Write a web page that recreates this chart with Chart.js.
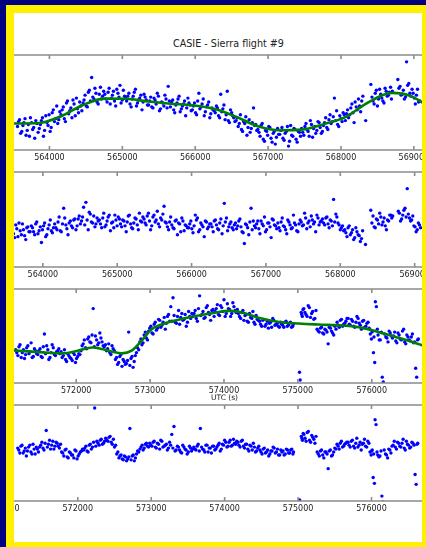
<!DOCTYPE html>
<html>
<head>
<meta charset="utf-8">
<script src="https://cdn.jsdelivr.net/npm/chart.js@4.4.1/dist/chart.umd.min.js"></script>
<style>
  html, body { margin: 0; padding: 0; }
  body { width: 426px; height: 547px; background: #000080; position: relative; overflow: hidden;
         font-family: "DejaVu Sans", sans-serif; }
  #frame { position: absolute; left: 6px; top: 5px; right: 0; bottom: 0; background: #fff000; }
  #plot { position: absolute; left: 14px; top: 13px; width: 408px; height: 529px; background: #fff; overflow: hidden; }
  #plot canvas { position: absolute; }
  .txt { position: absolute; color: #222; white-space: nowrap; }
</style>
</head>
<body>
<div id="frame"></div>
<div id="plot">
  <div class="txt" style="left:114.5px; width:200px; text-align:center; top:25px; line-height:12px; font-size:9.6px;">CASIE - Sierra flight #9</div>
  <canvas id="c1" width="490" height="117" style="left:-44px; top:38px;"></canvas>
  <canvas id="c2" width="490" height="117" style="left:-44px; top:155px;"></canvas>
  <canvas id="c3" width="460" height="116" style="left:-14px; top:272px;"></canvas>
  <canvas id="c4" width="470" height="118" style="left:-24px; top:388px;"></canvas>
  <div class="txt" style="left:197px; top:380px; line-height:10px; font-size:7.5px;">UTC (s)</div>
</div>
<script>
"use strict";

// tick positions (UTC seconds)
var leg1Ticks = [563000, 564000, 565000, 566000, 567000, 568000, 569000, 570000];
var leg2Ticks = [571000, 572000, 573000, 574000, 575000, 576000, 577000];

// ---- leg 1 (panels 1 & 2) : sample times, measured values, residuals ----
var leg1Time = [
  563562, 563590, 563621, 563650, 563679, 563711, 563739, 563770, 563798, 563829,
  563861, 563890, 563918, 563950, 563981, 564010, 564038, 564069, 564100, 564128,
  564159, 564190, 564219, 564248, 564280, 564309, 564338, 564370, 564399, 564430,
  564461, 564489, 564520, 564548, 564579, 564610, 564638, 564669, 564700, 564729,
  564760, 564791, 564819, 564850, 564878, 564909, 564940, 564968, 564999, 565030,
  565059, 565090, 565121, 565149, 565180, 565208, 565239, 565270, 565298, 565329,
  565361, 565389, 565420, 565449, 565480, 565510, 565539, 565570, 565599, 565630,
  565660, 565691, 565719, 565750, 565779, 565810, 565840, 565869, 565900, 565929,
  565961, 565990, 566019, 566050, 566079, 566110, 566139, 566170, 566200, 566229,
  566260, 566291, 566320, 566350, 566379, 566410, 566440, 566469, 566500, 566529,
  566561, 566590, 566620, 566650, 566679, 566710, 566740, 566769, 566800, 566830,
  566860, 566890, 566919, 566950, 566980, 567009, 567040, 567070, 567099, 567130,
  567160, 567190, 567219, 567250, 567280, 567309, 567340, 567370, 567399, 567430,
  567460, 567490, 567520, 567549, 567580, 567610, 567640, 567669, 567700, 567730,
  567760, 567790, 567820, 567850, 567879, 567910, 567940, 567969, 568000, 568030,
  568060, 568090, 568120, 568150, 568180, 568209, 568240, 568270, 568300, 568339,
  568410, 568440, 568470, 568500, 568530, 568560, 568590, 568620, 568650, 568680,
  568705, 568780, 568810, 568840, 568870, 568900, 568930, 568960,
  568990, 569020, 569050, 569080
];
var leg1Obs = [
  24, 31, 19, 28, 15, 26, 33, 21, 12, 27,
  22, 30, 14, 35, 25, 19, 38, 29, 45, 31,
  36, 44, 29, 50, 40, 33, 47, 53, 38, 45,
  48, 56, 44, 61, 74, 52, 58, 47, 64, 55,
  57, 49, 63, 53, 60, 45, 58, 66, 51, 55,
  50, 58, 44, 55, 62, 48, 53, 41, 57, 51,
  46, 54, 43, 51, 58, 40, 49, 45, 52, 65,
  44, 51, 38, 48, 55, 42, 47, 35, 53, 46,
  41, 48, 36, 58, 44, 52, 39, 46, 33, 43,
  40, 45, 35, 57, 42, 31, 60, 28, 38, 33,
  30, 24, 36, 19, 27, 15, 31, 22, 43, 26,
  21, 14, 27, 9, 19, 24, 12, 17, 6, 22,
  16, 23, 10, 19, 4, 25, 14, 21, 8, 18,
  22, 15, 27, 19, 30, 13, 24, 20, 28, 17,
  25, 33, 21, 36, 29, 53, 40, 24, 32, 38,
  30, 41, 36, 47, 28, 44, 52, 39, 55, 30,
  67, 50, 58, 45, 62, 53, 48, 60, 56, 64,
  60, 72, 65, 57, 52, 90, 68, 55,
  58, 47, 62, 50
];
var leg1Res = [
  35, 42, 30, 39, 45, 33, 38, 28, 41, 36,
  40, 33, 46, 37, 25, 42, 31, 39, 48, 35,
  44, 38, 51, 36, 60, 43, 33, 47, 40, 49,
  42, 52, 47, 61, 66, 38, 54, 45, 41, 50,
  48, 40, 55, 43, 51, 37, 46, 53, 42, 49,
  41, 47, 36, 52, 44, 39, 50, 43, 55, 46,
  49, 43, 55, 38, 51, 46, 57, 41, 48, 62,
  45, 38, 51, 40, 47, 33, 44, 50, 37, 42,
  40, 47, 35, 53, 50, 38, 43, 31, 46, 41,
  44, 36, 48, 39, 45, 34, 65, 50, 41, 46,
  38, 45, 42, 49, 36, 24, 43, 33, 60, 47,
  40, 47, 34, 44, 51, 38, 45, 30, 48, 42,
  45, 37, 50, 41, 34, 46, 39, 53, 43, 36,
  48, 42, 55, 39, 47, 52, 44, 36, 50, 46,
  49, 43, 51, 40, 47, 69, 54, 45, 38, 42,
  38, 31, 42, 35, 28, 40, 33, 26, 37, 23,
  58, 52, 40, 48, 55, 43, 50, 38, 47, 53,
  52, 57, 47, 53, 60, 80, 50, 48,
  42, 36, 45, 40
];
// second (interleaved) set of leg 1 samples
var leg1TimeB = [
  563576, 563605, 563636, 563665, 563695, 563725, 563755, 563784, 563813, 563845,
  563875, 563904, 563934, 563966, 563995, 564024, 564053, 564084, 564114, 564143,
  564175, 564204, 564234, 564264, 564294, 564323, 564354, 564384, 564415, 564445,
  564475, 564505, 564534, 564563, 564595, 564624, 564653, 564684, 564714, 564744,
  564775, 564805, 564834, 564864, 564893, 564924, 564954, 564983, 565014, 565044,
  565074, 565105, 565135, 565164, 565194, 565223, 565254, 565284, 565313, 565345,
  565375, 565404, 565434, 565464, 565495, 565524, 565554, 565584, 565614, 565645,
  565675, 565705, 565734, 565764, 565794, 565825, 565854, 565884, 565914, 565945,
  565975, 566004, 566034, 566064, 566094, 566124, 566154, 566185, 566214, 566244,
  566275, 566305, 566335, 566364, 566394, 566425, 566454, 566484, 566514, 566545,
  566575, 566605, 566635, 566664, 566694, 566725, 566754, 566784, 566815, 566845,
  566875, 566904, 566934, 566965, 566994, 567024, 567055, 567084, 567114, 567145,
  567175, 567204, 567234, 567265, 567294, 567324, 567355, 567384, 567414, 567445,
  567475, 567505, 567534, 567564, 567595, 567624, 567654, 567685, 567714, 567745,
  567775, 567805, 567835, 567864, 567894, 567925, 567954, 567984, 568015, 568045,
  568075, 568104, 568135, 568165, 568194, 568224, 568255, 568285,
  568425, 568455, 568485, 568515, 568545, 568575, 568605, 568635, 568665, 568692,
  568795, 568825, 568855, 568885, 568915, 568945, 568975,
  569005, 569035, 569065
];
var leg1ObsB = [
  29, 17, 25, 32, 20, 14, 28, 23, 30, 18,
  26, 33, 20, 28, 36, 23, 41, 32, 27, 39,
  41, 32, 48, 37, 43, 51, 35, 42, 49, 40,
  51, 45, 59, 50, 54, 63, 49, 57, 52, 60,
  52, 59, 47, 56, 50, 62, 54, 48, 61, 53,
  55, 47, 52, 59, 45, 51, 56, 49, 54, 46,
  50, 44, 53, 47, 55, 42, 48, 56, 43, 50,
  49, 41, 46, 52, 39, 45, 50, 43, 48, 40,
  45, 38, 50, 42, 47, 35, 44, 49, 37, 41,
  38, 43, 33, 39, 46, 36, 30, 41, 35, 29,
  33, 27, 21, 29, 34, 23, 18, 28, 25, 20,
  18, 25, 11, 20, 15, 23, 8, 19, 13, 16,
  20, 12, 17, 24, 9, 15, 22, 11, 19, 14,
  18, 24, 21, 14, 26, 22, 17, 29, 23, 19,
  28, 23, 31, 27, 34, 30, 26, 35, 29, 36,
  37, 33, 43, 38, 49, 41, 45, 50,
  54, 47, 61, 52, 57, 50, 63, 55, 59, 52,
  63, 56, 61, 54, 66, 58, 62,
  53, 56, 49
];
var leg1ResB = [
  39, 34, 43, 31, 37, 44, 32, 40, 36, 42,
  36, 44, 34, 41, 38, 45, 33, 43, 37, 40,
  40, 46, 37, 44, 50, 39, 45, 42, 48, 38,
  49, 44, 51, 43, 48, 56, 46, 52, 44, 47,
  44, 50, 41, 47, 53, 45, 40, 48, 51, 44,
  48, 42, 46, 53, 40, 45, 49, 38, 47, 51,
  45, 52, 47, 42, 53, 48, 44, 50, 54, 46,
  41, 46, 43, 39, 48, 45, 36, 47, 43, 40,
  44, 39, 42, 48, 36, 45, 41, 47, 39, 44,
  41, 47, 43, 38, 49, 42, 46, 37, 44, 40,
  43, 39, 47, 41, 35, 44, 40, 46, 38, 42,
  44, 39, 47, 42, 36, 45, 41, 49, 43, 39,
  40, 46, 42, 38, 48, 43, 40, 45, 37, 44,
  46, 43, 50, 45, 41, 48, 46, 53, 43, 47,
  45, 50, 44, 48, 42, 46, 51, 43, 40, 37,
  35, 40, 33, 38, 30, 36, 32, 29,
  45, 41, 49, 44, 51, 46, 42, 48, 53, 50,
  55, 49, 58, 51, 54, 47, 52,
  41, 38, 43
];
var leg1FitTime = [563500, 563860, 564160, 564460, 564760, 565060, 565360, 565660, 565960, 566260,
                   566560, 566860, 567160, 567460, 567760, 568060, 568360, 568700, 568960, 569150];
var leg1FitValue = [27, 27.5, 34.5, 46, 52.5, 52.3, 49.5, 47.3, 45.6, 42,
                    34, 24.3, 20.2, 20.8, 26.3, 33.5, 48, 58.3, 55, 47];

// ---- leg 2 (panels 3 & 4) ----
var leg2Time = [
  571182, 571211, 571240, 571271, 571300, 571330, 571361, 571390, 571420, 571449,
  571480, 571511, 571540, 571570, 571601, 571630, 571660, 571690, 571719, 571750,
  571780, 571810, 571841, 571870, 571900, 571930, 571961, 571990, 572020, 572050,
  572080, 572110, 572141, 572170, 572200, 572230, 572260, 572291, 572320, 572350,
  572380, 572411, 572440, 572470, 572500, 572531, 572560, 572590, 572620, 572650,
  572680, 572710, 572741, 572770, 572800, 572830, 572861, 572890, 572920, 572950,
  572980, 573010, 573041, 573070, 573100, 573130, 573160, 573191, 573220, 573250,
  573280, 573310, 573340, 573371, 573400, 573430, 573460, 573490, 573521, 573550,
  573580, 573610, 573640, 573670, 573701, 573730, 573760, 573790, 573820, 573851,
  573880, 573910, 573940, 573970, 574000, 574031, 574060, 574090, 574120, 574150,
  574180, 574210, 574241, 574270, 574300, 574330, 574360, 574391, 574420, 574450,
  574480, 574510, 574540, 574570, 574601, 574630, 574660, 574690, 574720, 574750,
  574780, 574810, 574840, 574871, 574900, 574930, 575022, 575031, 575045, 575060,
  575080, 575110, 575140, 575171, 575200, 575230, 575260, 575290, 575320, 575351,
  575380, 575410, 575440, 575470, 575500, 575531, 575560, 575590, 575620, 575650,
  575680, 575710, 575740, 575771, 575800, 575830, 575860, 575890, 575920, 575950,
  575980, 575995, 576010, 576023, 576040, 576049, 576062, 576085, 576101, 576130, 576142, 576156, 576190, 576220, 576250,
  576280, 576310, 576340, 576370, 576400, 576431, 576460, 576490, 576520, 576550,
  576580, 576594, 576608, 576630
];
var leg2Obs = [
  34, 28, 39, 31, 25, 36, 30, 41, 27, 33,
  29, 35, 26, 50, 38, 24, 31, 36, 28, 33,
  30, 26, 34, 22, 28, 25, 31, 21, 27, 29,
  38, 44, 35, 47, 41, 76, 48, 39, 51, 42,
  37, 33, 40, 29, 35, 24, 19, 27, 17, 22,
  20, 52, 25, 16, 28, 36, 42, 39, 49, 46,
  53, 58, 50, 62, 56, 64, 59, 67, 61, 70,
  78, 87, 62, 68, 60, 71, 65, 58, 73, 66,
  68, 74, 63, 89, 70, 66, 77, 72, 64, 75,
  73, 80, 69, 77, 85, 71, 76, 68, 82, 74,
  75, 68, 72, 64, 70, 62, 67, 73, 60, 65,
  63, 58, 65, 60, 56, 62, 66, 59, 61, 57,
  60, 57, 63, 59, 62, 58, 11, 3, 72, 68,
  76, 70, 79, 67, 73, 66, 55, 52, 57, 50,
  54, 40, 56, 51, 58, 62, 57, 65, 60, 63,
  66, 59, 63, 57, 68, 61, 55, 64, 58, 62,
  50, 45, 53, 31, 21, 83, 78, 49, 44, 52, 6, 1, 47, 42, 51,
  46, 52, 41, 49, 44, 55, 40, 47, 43, 50,
  42, 15, 6, 45
];
var leg2Res = [
  54, 49, 57, 51, 46, 55, 50, 58, 48, 53,
  55, 60, 52, 72, 58, 53, 61, 56, 59, 54,
  50, 46, 53, 44, 49, 47, 52, 43, 48, 51,
  52, 56, 50, 58, 55, 95, 61, 57, 63, 59,
  64, 61, 66, 58, 55, 48, 44, 47, 42, 45,
  43, 74, 46, 41, 48, 50, 55, 52, 58, 56,
  59, 56, 61, 54, 58, 62, 55, 57, 52, 60,
  68, 76, 52, 55, 50, 57, 53, 48, 56, 51,
  55, 52, 58, 74, 53, 50, 57, 54, 49, 56,
  53, 57, 51, 58, 62, 55, 60, 56, 63, 58,
  60, 55, 62, 54, 58, 51, 56, 59, 50, 54,
  52, 48, 54, 50, 46, 51, 55, 49, 53, 47,
  50, 47, 53, 49, 52, 48, 1, -7, 66, 62,
  68, 61, 71, 60, 65, 59, 50, 46, 52, 44,
  50, 33, 52, 47, 54, 58, 53, 61, 56, 59,
  60, 55, 62, 54, 64, 57, 52, 59, 56, 61,
  50, 47, 52, 24, 18, 83, 78, 47, 45, 51, 5, -1, 48, 44, 52,
  56, 61, 53, 59, 55, 63, 52, 58, 54, 60,
  57, 27, 17, 59
];
var leg2TimeB = [
  571196, 571226, 571256, 571286, 571315, 571346, 571376, 571405, 571435, 571465,
  571495, 571526, 571555, 571586, 571616, 571645, 571675, 571705, 571735, 571765,
  571795, 571826, 571856, 571885, 571915, 571946, 571976, 572005, 572035, 572065,
  572095, 572126, 572156, 572185, 572215, 572245, 572276, 572306, 572335, 572365,
  572396, 572426, 572455, 572485, 572516, 572546, 572575, 572605, 572635, 572665,
  572695, 572726, 572756, 572785, 572815, 572846, 572876, 572905, 572935, 572965,
  572995, 573026, 573056, 573085, 573115, 573145, 573176, 573206, 573235, 573265,
  573295, 573325, 573356, 573386, 573415, 573445, 573475, 573506, 573536, 573565,
  573595, 573625, 573655, 573686, 573716, 573745, 573775, 573805, 573836, 573866,
  573895, 573925, 573955, 573985, 574016, 574046, 574075, 574105, 574135, 574165,
  574195, 574226, 574256, 574285, 574315, 574345, 574376, 574406, 574435, 574465,
  574495, 574525, 574555, 574586, 574616, 574645, 574675, 574705, 574735, 574765,
  574795, 574825, 574856, 574886, 574915, 574938, 575052, 575070,
  575095, 575125, 575156, 575186, 575215, 575245, 575275, 575305, 575336, 575366,
  575395, 575425, 575455, 575485, 575516, 575546, 575575, 575605, 575635, 575665,
  575695, 575725, 575756, 575786, 575815, 575845, 575875, 575905, 575935, 575965,
  576003, 576030, 576075, 576115, 576173, 576205, 576235, 576265,
  576295, 576325, 576355, 576385, 576416, 576446, 576475, 576505, 576535, 576565,
  576620
];
var leg2ObsB = [
  31, 37, 26, 34, 29, 38, 32, 26, 35, 30,
  33, 27, 37, 30, 34, 26, 39, 29, 32, 35,
  32, 28, 24, 30, 26, 23, 29, 25, 30, 33,
  40, 36, 45, 42, 49, 37, 44, 41, 46, 38,
  39, 35, 31, 38, 33, 26, 21, 29, 24, 19,
  23, 18, 27, 22, 31, 34, 45, 41, 52, 44,
  56, 51, 60, 54, 65, 57, 62, 55, 68, 63,
  63, 69, 61, 74, 67, 64, 70, 62, 68, 71,
  71, 66, 76, 69, 73, 67, 79, 70, 74, 68,
  76, 70, 79, 73, 68, 81, 75, 71, 78, 72,
  71, 66, 74, 69, 63, 71, 66, 62, 69, 64,
  60, 64, 58, 63, 61, 57, 64, 60, 58, 62,
  59, 62, 58, 61, 57, 60, 70, 75,
  72, 68, 77, 71, 65, 74, 53, 56, 51, 55,
  52, 57, 53, 49, 55, 59, 64, 58, 61, 66,
  60, 65, 58, 62, 66, 59, 63, 57, 61, 56,
  52, 47, 55, 44, 50, 46, 53, 48,
  48, 43, 51, 45, 53, 42, 49, 44, 47, 41,
  44
];
var leg2ResB = [
  52, 56, 49, 54, 51, 57, 48, 53, 55, 50,
  57, 54, 59, 55, 62, 57, 53, 60, 56, 58,
  49, 52, 45, 50, 47, 44, 51, 46, 50, 53,
  54, 51, 57, 53, 60, 56, 59, 62, 58, 61,
  62, 65, 60, 63, 57, 50, 46, 43, 46, 41,
  45, 42, 47, 44, 51, 53, 57, 54, 59, 55,
  57, 60, 55, 59, 53, 61, 56, 58, 54, 57,
  54, 51, 56, 52, 49, 55, 52, 50, 54, 53,
  53, 56, 51, 55, 52, 57, 50, 54, 56, 52,
  55, 59, 53, 57, 60, 56, 62, 57, 59, 61,
  57, 61, 56, 58, 53, 57, 52, 55, 51, 56,
  50, 53, 49, 52, 48, 51, 54, 50, 47, 52,
  51, 48, 52, 49, 53, 50, 64, 69,
  64, 70, 62, 67, 63, 66, 48, 51, 47, 50,
  48, 51, 46, 50, 53, 56, 59, 55, 58, 60,
  57, 61, 56, 59, 55, 60, 58, 63, 55, 59,
  51, 48, 50, 46, 52, 47, 53, 49,
  57, 55, 60, 56, 59, 54, 61, 57, 55, 59,
  58
];
var leg2FitTime = [571100, 571209, 571555, 571820, 572020, 572219, 572352, 572485, 572618, 572751,
                   572884, 573017, 573217, 573483, 573855, 574081, 574281, 574480, 574746, 575012,
                   575278, 575610, 575876, 576076, 576276, 576476, 576636, 576720];
var leg2FitValue = [33.5, 33, 31.3, 30.3, 33, 36.3, 34.7, 32, 30.3, 33,
                    43, 54.7, 61.3, 66.3, 71.5, 73.7, 71.3, 66.3, 62.3, 60.7,
                    59.7, 58.7, 56.3, 52.3, 48, 43.7, 39.7, 37.5];

function pairs(xs, ys) {
  return xs.map(function (x, i) { return { x: x, y: ys[i] }; });
}

// matplotlib-like frame: top / bottom spines with inward ticks
var spines = {
  id: "spines",
  afterDatasetsDraw: function (chart) {
    var ctx = chart.ctx, a = chart.chartArea, x = chart.scales.x;
    ctx.save();
    ctx.strokeStyle = "#8c8c8c";
    ctx.lineWidth = 1.6;
    ctx.beginPath();
    ctx.moveTo(a.left, a.top); ctx.lineTo(a.right, a.top);
    ctx.moveTo(a.left, a.bottom); ctx.lineTo(a.right, a.bottom);
    x.ticks.forEach(function (t) {
      var px = x.getPixelForValue(t.value);
      ctx.moveTo(px, a.top); ctx.lineTo(px, a.top + 4);
      ctx.moveTo(px, a.bottom); ctx.lineTo(px, a.bottom - 4);
    });
    ctx.stroke();
    ctx.restore();
  }
};

function panel(id, series, fitTime, fitValue, tickValues, xMin, xMax, yMax) {
  var datasets = series.map(function (s) {
    return {
      data: pairs(s[0], s[1]),
      backgroundColor: "#0000ff",
      borderWidth: 0,
      pointRadius: 1.7
    };
  });
  if (fitTime) {
    datasets.unshift({
      type: "line",
      data: pairs(fitTime, fitValue),
      borderColor: "#008000",
      borderWidth: 2.6,
      pointRadius: 0,
      cubicInterpolationMode: "monotone",
      fill: false
    });
  }
  return new Chart(document.getElementById(id), {
    type: "scatter",
    data: { datasets: datasets },
    options: {
      responsive: false,
      animation: false,
      events: [],
      layout: { padding: { top: 2, left: 0, right: 0, bottom: 0 } },
      plugins: { legend: { display: false }, tooltip: { enabled: false } },
      scales: {
        x: {
          type: "linear", min: xMin, max: xMax,
          grid: { display: false, drawTicks: false },
          border: { display: false },
          ticks: {
            autoSkip: false, maxRotation: 0, minRotation: 0, padding: 3,
            color: "#222", font: { family: "DejaVu Sans", size: 8 },
            callback: function (v) { return String(v); }
          },
          afterBuildTicks: function (s) {
            s.ticks = tickValues
              .filter(function (v) { return v >= xMin && v <= xMax; })
              .map(function (v) { return { value: v }; });
          },
          afterFit: function (s) { s.height = 18; s.paddingLeft = 0; s.paddingRight = 0; }
        },
        y: { display: false, min: 0, max: yMax }
      }
    },
    plugins: [spines]
  });
}

panel("c1", [[leg1Time, leg1Obs], [leg1TimeB, leg1ObsB]], leg1FitTime, leg1FitValue, leg1Ticks, 562965, 569578, 97);
panel("c2", [[leg1Time, leg1Res], [leg1TimeB, leg1ResB]], null, null, leg1Ticks, 563074, 569556, 97);
panel("c3", [[leg2Time, leg2Obs], [leg2TimeB, leg2ObsB]], leg2FitTime, leg2FitValue, leg2Ticks, 571023, 577140, 96);
panel("c4", [[leg2Time, leg2Res], [leg2TimeB, leg2ResB]], null, null, leg2Ticks, 570859, 577151, 98);
</script>
</body>
</html>
